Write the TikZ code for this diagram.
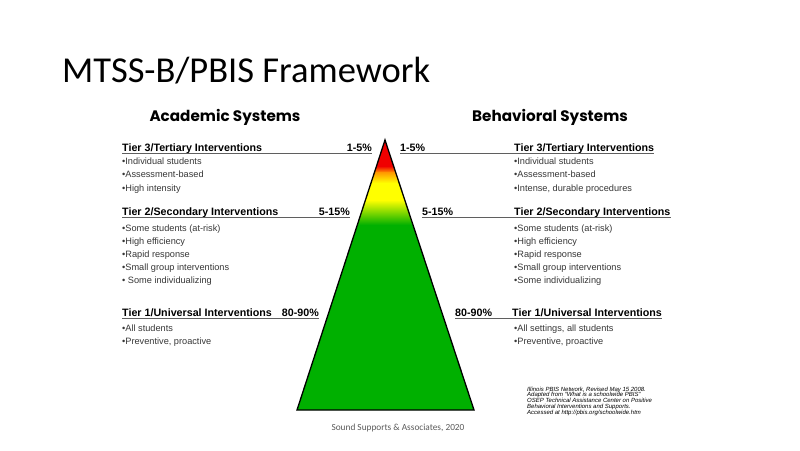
\documentclass[tikz,border=0pt]{standalone}
\usepackage{fontspec}
\setmainfont{Liberation Sans}
\newfontfamily\titlefont{Carlito}
\newfontfamily\headfont{Poppins}
\definecolor{tgreen}{RGB}{0,176,0}
\definecolor{tred}{RGB}{240,0,0}
\definecolor{torange}{RGB}{255,150,0}
\definecolor{tyellow}{RGB}{255,255,0}
\definecolor{bultext}{RGB}{55,55,55}
\definecolor{linegray}{RGB}{95,95,95}
\definecolor{footgray}{RGB}{90,90,90}
\begin{document}
\begin{tikzpicture}[x=1pt,y=-1pt,
  tierhead/.style={font=\bfseries\fontsize{10.7}{12}\selectfont, anchor=base west, inner sep=0pt},
  pct/.style={font=\bfseries\fontsize{10.7}{12}\selectfont, inner sep=0pt},
  bul/.style={font=\fontsize{9.2}{12}\selectfont, text=bultext, anchor=base west, inner sep=0pt},
  uline/.style={draw=linegray, line width=0.8pt},
  syshead/.style={font=\headfont\bfseries\fontsize{15.2}{17}\selectfont, inner sep=0pt},
  refnote/.style={font=\itshape\fontsize{6}{6.5}\selectfont, anchor=base west, inner sep=0pt}]
\useasboundingbox[fill=white] (0,0) rectangle (800,450);

% title
\node[font=\titlefont\fontsize{36.5}{40}\selectfont, anchor=base west, inner sep=0pt] (title) at (62,82) {MTSS-B/PBIS Framework};

% system headers
\node[syshead] (acad) at (225,117) {Academic Systems};
\node[syshead] (behav) at (550,117) {Behavioral Systems};

% triangle
\coordinate (apex) at (385,140);
\coordinate (bl) at (297,410);
\coordinate (br) at (474,410);
\begin{scope}
\clip (apex) -- (bl) -- (br) -- cycle;
\fill[tred] (290,135) rectangle (480,166);
\shade[top color=tred, bottom color=torange] (290,166) rectangle (480,172.5);
\shade[top color=torange, bottom color=tyellow] (290,172) rectangle (480,183);
\fill[tyellow] (290,182.5) rectangle (480,200.5);
\shade[top color=tyellow, bottom color=tgreen] (290,200) rectangle (480,225);
\fill[tgreen] (290,224.5) rectangle (480,415);
\end{scope}
\draw[line width=1.3pt, line join=miter] (apex) -- (bl) -- (br) -- cycle;

% ---- left side ----
\node[tierhead] (l3) at (122,151) {Tier 3/Tertiary Interventions};
\node[pct, anchor=base east] (l3p) at (372,151) {1-5\%};
\draw[uline] (l3.south west |- 0,153.5) -- (l3p.south east |- 0,153.5);
\foreach \t [count=\i] in {Individual students, Assessment-based, High intensity}
  \node[bul] (l3b\i) at (122,{151+13.4*\i}) {•\t};

\node[tierhead] (l2) at (122,215) {Tier 2/Secondary Interventions};
\node[pct, anchor=base east] (l2p) at (350,215) {5-15\%};
\draw[uline] (l2.south west |- 0,217.5) -- (l2p.south east |- 0,217.5);
\foreach \t [count=\i] in {Some students (at-risk), High efficiency, Rapid response, Small group interventions, {\ Some individualizing}}
  \node[bul] (l2b\i) at (122,{218+13.1*\i}) {•\t};

\node[tierhead] (l1) at (122,316) {Tier 1/Universal Interventions};
\node[pct, anchor=base east] (l1p) at (319,316) {80-90\%};
\draw[uline] (l1.south west |- 0,318.5) -- (l1p.south east |- 0,318.5);
\foreach \t [count=\i] in {All students, {Preventive, proactive}}
  \node[bul] (l1b\i) at (122,{318+13.3*\i}) {•\t};

% ---- right side ----
\node[pct, anchor=base west] (r3p) at (400,151) {1-5\%};
\node[tierhead] (r3) at (514,151) {Tier 3/Tertiary Interventions};
\draw[uline] (r3p.south west |- 0,153.5) -- (r3.south east |- 0,153.5);
\foreach \t [count=\i] in {Individual students, Assessment-based, {Intense, durable procedures}}
  \node[bul] (r3b\i) at (514,{151+13.4*\i}) {•\t};

\node[pct, anchor=base west] (r2p) at (422,215) {5-15\%};
\node[tierhead] (r2) at (514,215) {Tier 2/Secondary Interventions};
\draw[uline] (r2p.south west |- 0,217.5) -- (r2.south east |- 0,217.5);
\foreach \t [count=\i] in {Some students (at-risk), High efficiency, Rapid response, Small group interventions, Some individualizing}
  \node[bul] (r2b\i) at (514,{218+13.1*\i}) {•\t};

\node[pct, anchor=base west] (r1p) at (455,316) {80-90\%};
\node[tierhead] (r1) at (512,316) {Tier 1/Universal Interventions};
\draw[uline] (r1p.south west |- 0,318.5) -- (r1.south east |- 0,318.5);
\foreach \t [count=\i] in {{All settings, all students}, {Preventive, proactive}}
  \node[bul] (r1b\i) at (514,{318+13.3*\i}) {•\t};

% reference note
\foreach \t [count=\i] in {{Illinois PBIS Network, Revised May 15 2008.},
  {Adapted from ``What is a schoolwide PBIS''},
  {OSEP Technical Assistance Center on Positive},
  {Behavioral Interventions and Supports.},
  {Accessed at http://pbis.org/schoolwide.htm}}
  \node[refnote] (ref\i) at (527,{385.5+5.7*\i}) {\t};

% footer
\node[font=\titlefont\fontsize{9.3}{10}\selectfont, text=footgray, inner sep=0pt] (foot) at (398,428) {Sound Supports \& Associates, 2020};
\end{tikzpicture}
\end{document}
